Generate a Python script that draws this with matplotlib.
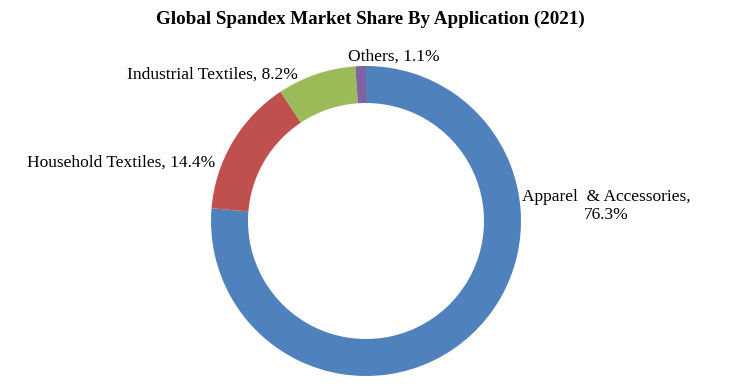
import matplotlib.pyplot as plt

categories = ["Apparel  & Accessories", "Household Textiles", "Industrial Textiles", "Others"]
shares = [76.3, 14.4, 8.2, 1.1]
colors = ["#4F81BD", "#C0504D", "#9BBB59", "#8064A2"]

plt.rcParams['font.family'] = ['Liberation Serif', 'DejaVu Serif']

W, H = 753, 392
fig = plt.figure(figsize=(W / 100, H / 100), dpi=100)

# donut centre and radius in pixels
cx, cy, r = 366, 221, 155
ax = fig.add_axes([(cx - r) / W, (H - cy - r) / H, 2 * r / W, 2 * r / H])
ax.pie(shares, colors=colors, startangle=90, counterclock=False, radius=1,
       wedgeprops=dict(width=37 / 155, edgecolor='none'))
ax.set_xlim(-1, 1)
ax.set_ylim(-1, 1)
ax.set_aspect('equal')
ax.axis('off')

fig.text(370 / W, 1 - 19 / H, "Global Spandex Market Share By Application (2021)",
         ha='center', va='center', fontsize=13.7, fontweight='bold')

# label positions (pixel centres)
label_pos = [(606, 206), (121, 163), (212, 75), (394, 57)]
for name, val, (x, y) in zip(categories, shares, label_pos):
    if name.startswith("Apparel"):
        txt = f"{name},\n{val}%"
    else:
        txt = f"{name}, {val}%"
    fig.text(x / W, 1 - y / H, txt, ha='center', va='center', fontsize=12.5,
             linespacing=1.2)

fig.savefig("out.png", dpi=100, facecolor='white')
